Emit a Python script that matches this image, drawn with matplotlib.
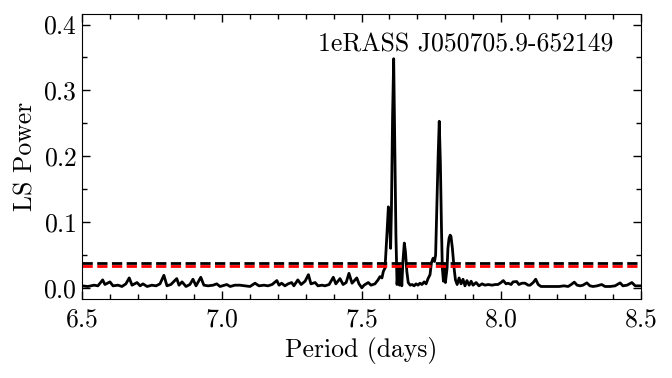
import matplotlib
matplotlib.use("Agg")
import matplotlib.pyplot as plt
from matplotlib.ticker import MultipleLocator

plt.rcParams['font.family'] = 'serif'
plt.rcParams['font.serif'] = ['cmr10']
plt.rcParams['mathtext.fontset'] = 'cm'
plt.rcParams['axes.formatter.use_mathtext'] = True

# periodogram
period = [6.500, 6.521, 6.543, 6.557, 6.574, 6.582, 6.600, 6.611, 6.629, 6.643,
          6.657, 6.669, 6.679, 6.697, 6.708, 6.718, 6.733, 6.750, 6.765, 6.779,
          6.793, 6.804, 6.818, 6.839, 6.847, 6.858, 6.872, 6.886, 6.897, 6.908,
          6.925, 6.936, 6.951, 6.969, 6.982, 6.994, 7.018, 7.030, 7.047, 7.065,
          7.083, 7.101, 7.119, 7.133, 7.151, 7.165, 7.180, 7.197, 7.205, 7.214,
          7.226, 7.237, 7.250, 7.258, 7.272, 7.284, 7.298, 7.310, 7.319, 7.334,
          7.344, 7.359, 7.369, 7.384, 7.399, 7.408, 7.423, 7.434, 7.445, 7.455,
          7.466, 7.483, 7.491, 7.501, 7.509, 7.524, 7.534, 7.548, 7.559, 7.566,
          7.573, 7.578, 7.584, 7.590, 7.596, 7.600, 7.604, 7.607, 7.611, 7.615,
          7.619, 7.623, 7.627, 7.632, 7.636, 7.641, 7.644, 7.648, 7.653, 7.657,
          7.662, 7.667, 7.674, 7.681, 7.688, 7.695, 7.702, 7.709, 7.716, 7.724,
          7.731, 7.738, 7.745, 7.750, 7.756, 7.761, 7.765, 7.768, 7.774, 7.778,
          7.782, 7.786, 7.789, 7.793, 7.796, 7.800, 7.806, 7.809, 7.813, 7.817,
          7.820, 7.825, 7.831, 7.836, 7.842, 7.849, 7.856, 7.863, 7.870, 7.877,
          7.885, 7.892, 7.899, 7.910, 7.920, 7.931, 7.942, 7.953, 7.967, 7.978,
          7.988, 7.999, 8.007, 8.017, 8.024, 8.035, 8.042, 8.055, 8.063, 8.074,
          8.085, 8.096, 8.103, 8.114, 8.123, 8.132, 8.142, 8.164, 8.185, 8.207,
          8.224, 8.239, 8.250, 8.261, 8.271, 8.282, 8.292, 8.306, 8.317, 8.328,
          8.343, 8.359, 8.371, 8.389, 8.407, 8.425, 8.435, 8.450, 8.467, 8.479,
          8.500]
power = [0.003, 0.002, 0.004, 0.003, 0.012, 0.005, 0.009, 0.003, 0.004, 0.002,
         0.006, 0.015, 0.004, 0.008, 0.003, 0.006, 0.002, 0.004, 0.003, 0.006,
         0.019, 0.003, 0.005, 0.014, 0.004, 0.009, 0.002, 0.005, 0.013, 0.003,
         0.016, 0.004, 0.003, 0.004, 0.006, 0.002, 0.005, 0.002, 0.004, 0.004,
         0.003, 0.002, 0.007, 0.003, 0.004, 0.003, 0.005, 0.011, 0.004, 0.007,
         0.003, 0.006, 0.008, 0.003, 0.012, 0.005, 0.010, 0.020, 0.006, 0.008,
         0.003, 0.004, 0.003, 0.005, 0.016, 0.006, 0.014, 0.005, 0.008, 0.022,
         0.007, 0.015, 0.006, 0.000, 0.004, 0.008, 0.004, 0.006, 0.012, 0.017,
         0.015, 0.025, 0.030, 0.075, 0.123, 0.100, 0.060, 0.120, 0.260, 0.348,
         0.220, 0.080, 0.005, 0.035, 0.004, 0.030, 0.003, 0.040, 0.068, 0.055,
         0.025, 0.008, 0.004, 0.005, 0.003, 0.006, 0.004, 0.007, 0.005, 0.009,
         0.006, 0.014, 0.020, 0.038, 0.045, 0.040, 0.050, 0.100, 0.200, 0.253,
         0.190, 0.090, 0.030, 0.010, 0.035, 0.008, 0.030, 0.060, 0.075, 0.080,
         0.078, 0.060, 0.030, 0.012, 0.005, 0.015, 0.006, 0.013, 0.003, 0.011,
         0.004, 0.010, 0.004, 0.008, 0.003, 0.006, 0.004, 0.005, 0.004, 0.005,
         0.005, 0.008, 0.011, 0.006, 0.007, 0.005, 0.009, 0.0095, 0.005, 0.007,
         0.007, 0.004, 0.004, 0.008, 0.013, 0.005, 0.002, 0.002, 0.002, 0.002,
         0.003, 0.002, 0.005, 0.0086, 0.004, 0.003, 0.004, 0.0075, 0.003, 0.002,
         0.003, 0.005, 0.002, 0.002, 0.003, 0.0075, 0.003, 0.004, 0.008, 0.003,
         0.003]

fap_black = 0.0383
fap_red = 0.0338

fig, ax = plt.subplots(figsize=(6.72, 3.78), dpi=100)
fig.subplots_adjust(left=0.122, right=0.954, top=0.963, bottom=0.209)

ax.plot(period, power, color='black', lw=2)
ax.axhline(fap_black, color='black', ls='--', lw=2)
ax.axhline(fap_red, color='red', ls='--', lw=2)

ax.set_xlim(6.5, 8.5)
ax.set_ylim(-0.017, 0.416)
ax.xaxis.set_major_locator(MultipleLocator(0.5))
ax.xaxis.set_minor_locator(MultipleLocator(0.1))
ax.yaxis.set_major_locator(MultipleLocator(0.1))
ax.yaxis.set_minor_locator(MultipleLocator(0.05))
ax.tick_params(which='both', direction='in', top=True, right=True, labelsize=18.5)
ax.tick_params(which='major', length=6, width=1)
ax.tick_params(which='minor', length=3.5, width=1)
ax.tick_params(axis='x', which='major', pad=6)
ax.set_xlabel('Period (days)', fontsize=18.5)
ax.set_ylabel('LS Power', fontsize=18.5)
ax.text(0.95, 0.935, '1eRASS J050705.9-652149', transform=ax.transAxes,
        ha='right', va='top', fontsize=18.5)

plt.savefig('out.png', dpi=100)
